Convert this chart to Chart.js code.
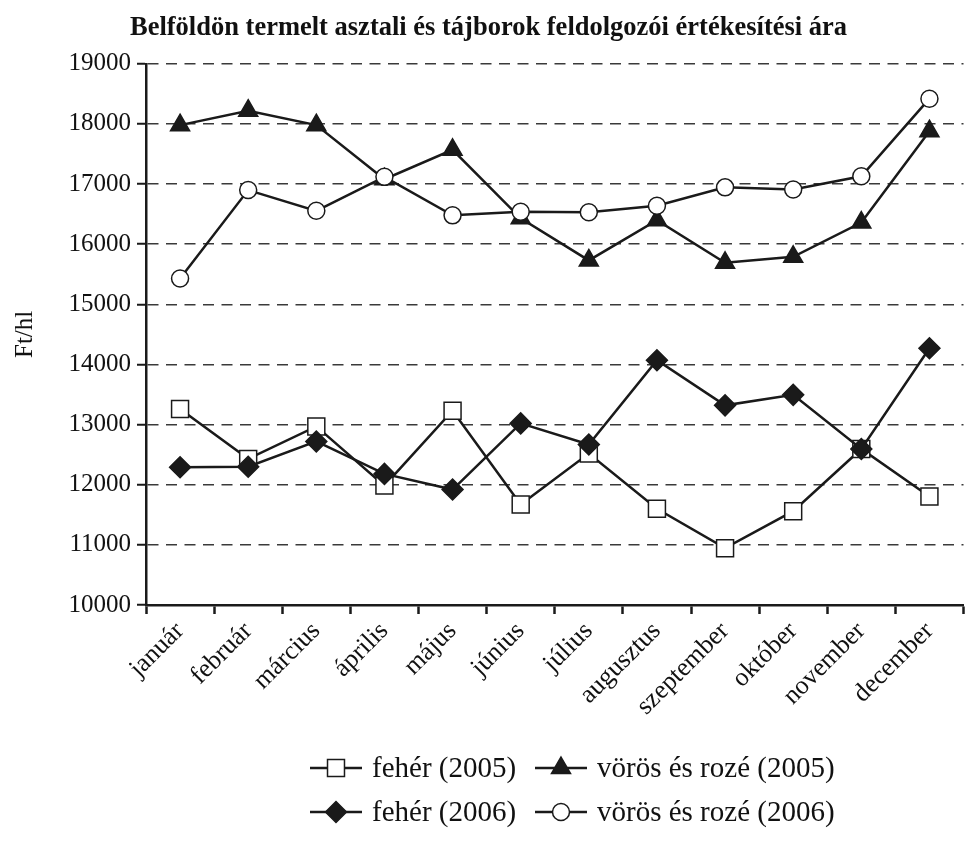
<!DOCTYPE html>
<html lang="hu">
<head>
<meta charset="utf-8">
<title>Borárak</title>
<script src="https://cdn.jsdelivr.net/npm/chart.js@4.4.0/dist/chart.umd.min.js"></script>
<style>
  html, body { margin: 0; padding: 0; background: #fff; }
  #wrap { width: 977px; height: 850px; }
</style>
</head>
<body>
<div id="wrap"><canvas id="priceChart" width="977" height="850"></canvas></div>
<script>
// Ft/hl, havi átlagárak
const months = ['január', 'február', 'március', 'április', 'május', 'június',
  'július', 'augusztus', 'szeptember', 'október', 'november', 'december'];

const feher2005 = [13260, 12430, 12970, 11985, 13230, 11670, 12520, 11600, 10945, 11560, 12595, 11805];
const voros2005 = [17980, 18220, 17980, 17080, 17570, 16430, 15730, 16400, 15690, 15790, 16360, 17880];
const feher2006 = [12290, 12300, 12720, 12180, 11920, 13020, 12670, 14070, 13320, 13495, 12595, 14270];
const voros2006 = [15430, 16900, 16555, 17120, 16480, 16540, 16530, 16640, 16945, 16910, 17130, 18420];

const seriesNames = ['fehér (2005)', 'vörös és rozé (2005)', 'fehér (2006)', 'vörös és rozé (2006)'];

const SERIF = '"Liberation Serif", "DejaVu Serif", "Times New Roman", serif';
const INK = '#1a1a1a';

function series(label, data, style, fill, radius, order) {
  return {
    label: label,
    data: data,
    borderColor: INK,
    borderWidth: 2.5,
    tension: 0,
    pointStyle: style,
    pointRadius: radius,
    pointHoverRadius: radius,
    pointBackgroundColor: fill,
    pointBorderColor: INK,
    pointBorderWidth: 1.5,
    order: order
  };
}

// legend drawn under the axis: line segment with the marker in the middle
const lineLegend = {
  id: 'lineLegend',
  afterDraw(chart, args, opts) {
    const ctx = chart.ctx;
    ctx.save();
    chart.data.datasets.forEach((ds, i) => {
      const x = opts.colX[i % 2];
      const y = opts.rowY[Math.floor(i / 2)];
      ctx.strokeStyle = INK;
      ctx.lineWidth = ds.borderWidth;
      ctx.setLineDash([]);
      ctx.beginPath();
      ctx.moveTo(x, y);
      ctx.lineTo(x + opts.lineLen, y);
      ctx.stroke();
      ctx.fillStyle = ds.pointBackgroundColor;
      ctx.strokeStyle = INK;
      ctx.lineWidth = ds.pointBorderWidth;
      Chart.helpers.drawPoint(ctx, {
        pointStyle: ds.pointStyle,
        radius: ds.pointRadius,
        rotation: 0,
        borderWidth: ds.pointBorderWidth
      }, x + opts.lineLen / 2, y);
      ctx.fillStyle = '#111';
      ctx.font = opts.fontSize + 'px ' + SERIF;
      ctx.textBaseline = 'middle';
      ctx.textAlign = 'left';
      ctx.fillText(ds.label, x + opts.lineLen + opts.gap, y + 1);
    });
    ctx.restore();
  }
};

const ctx = document.getElementById('priceChart');

new Chart(ctx, {
  type: 'line',
  data: {
    labels: months,
    datasets: [
      series(seriesNames[0], feher2005, 'rect', '#fff', 12, 2),
      series(seriesNames[1], voros2005, 'triangle', INK, 11, 3),
      series(seriesNames[2], feher2006, 'rectRot', INK, 10.5, 0),
      series(seriesNames[3], voros2006, 'circle', '#fff', 8.5, 1)
    ]
  },
  options: {
    responsive: false,
    animation: false,
    layout: { padding: { left: 0, right: 0, top: 0, bottom: 130 } },
    plugins: {
      legend: { display: false },
      tooltip: { enabled: false },
      title: {
        display: true,
        text: 'Belföldön termelt asztali és tájborok feldolgozói értékesítési ára',
        color: '#111',
        font: { family: SERIF, size: 26.5, weight: 'bold', lineHeight: 1.2 },
        padding: { top: 12, bottom: 20 }
      },
      lineLegend: {
        colX: [310, 535],
        rowY: [768, 812],
        lineLen: 52,
        gap: 10,
        fontSize: 29
      }
    },
    scales: {
      x: {
        offset: true,
        afterFit(scale) { scale.height = 115; },
        grid: {
          offset: true,
          drawOnChartArea: false,
          drawTicks: true,
          tickLength: 9,
          tickColor: INK,
          tickWidth: 2.5
        },
        border: { display: true, color: INK, width: 2.5 },
        ticks: {
          color: '#111',
          font: { family: SERIF, size: 26 },
          minRotation: 45,
          maxRotation: 45,
          autoSkip: false,
          padding: 2
        }
      },
      y: {
        min: 10000,
        max: 19000,
        afterFit(scale) { scale.width = 146; },
        grid: {
          color: '#3a3a3a',
          lineWidth: 1.5,
          drawTicks: true,
          tickLength: 9,
          tickColor: INK,
          tickWidth: 2,
          tickBorderDash: []
        },
        border: { display: true, color: INK, width: 2.5, dash: [11, 7.5] },
        ticks: {
          stepSize: 1000,
          color: '#111',
          padding: 6,
          font: { family: SERIF, size: 25 },
          callback: (value) => String(value)
        },
        title: {
          display: true,
          text: 'Ft/hl',
          color: '#111',
          font: { family: SERIF, size: 25 },
          padding: { top: 10, bottom: 0 }
        }
      }
    }
  },
  plugins: [lineLegend]
});
</script>
</body>
</html>
